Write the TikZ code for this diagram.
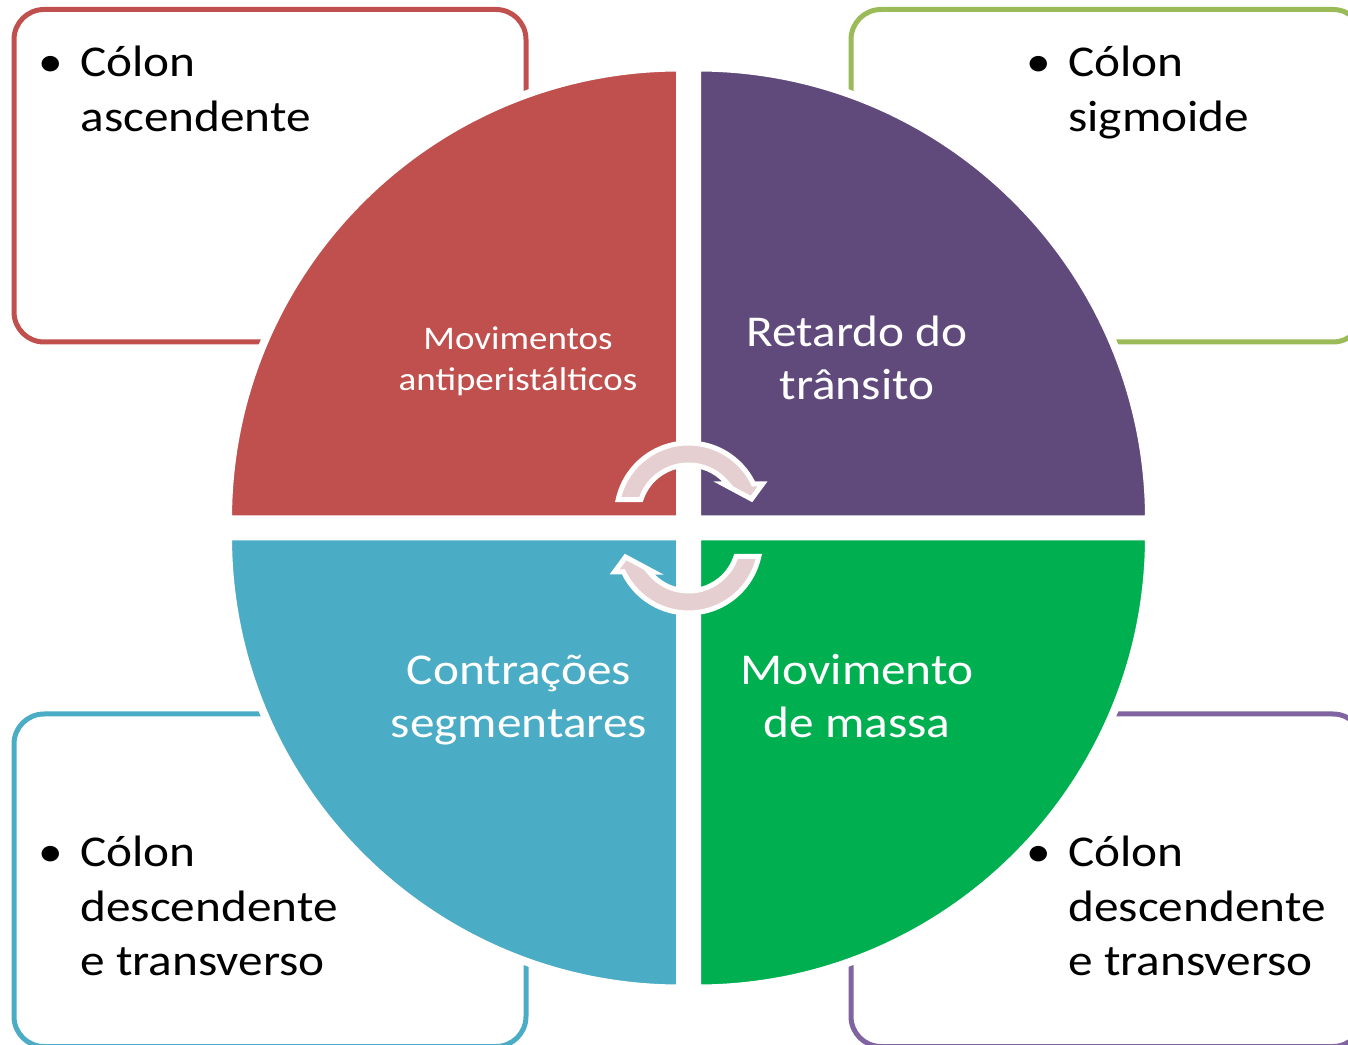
\documentclass[tikz,border=0pt]{standalone}
\usepackage{fontspec}
\setmainfont{Carlito}[FakeStretch=1.12]
\definecolor{quadred}{HTML}{C0504D}
\definecolor{quadpurple}{HTML}{604A7B}
\definecolor{quadblue}{HTML}{4BACC6}
\definecolor{quadgreen}{HTML}{00B050}
\definecolor{boxgreen}{HTML}{9BBB59}
\definecolor{boxpurple}{HTML}{8064A2}
\definecolor{arrowpink}{HTML}{E6CFD0}

\newcommand{\colonlist}[1]{\begin{tabular}[t]{@{}l@{}}\llap{\textbullet\hskip 8.5pt}#1\end{tabular}}
\newcommand{\quadlabel}[1]{\begin{tabular}[t]{@{}c@{}}#1\end{tabular}}

\tikzset{
    colonbox/.style={line width=2.5pt, rounded corners=15pt},
    quadrant/.style={draw=white, line width=4pt},
    cyclearrow/.style={fill=arrowpink, draw=white, line width=2.5pt, line join=miter},
    boxtext/.style={anchor=base west, inner sep=0pt, font=\fontsize{22}{27.25}\selectfont},
    quadtext/.style={anchor=base, inner sep=0pt, text=white, font=\fontsize{22}{26.3}\selectfont}
}

\begin{document}
\begin{tikzpicture}[x=0.5pt, y=0.5pt]
    \useasboundingbox (0, 0) rectangle (1348, 1044);

    \draw[colonbox, quadred] (14, 702) rectangle (526, 1034.5);
    \draw[colonbox, boxgreen] (851, 702) rectangle (1363, 1034.5);
    \draw[colonbox, quadblue] (14, -2.5) rectangle (526, 330);
    \draw[colonbox, boxpurple] (851, -2.5) rectangle (1363, 330);

    \begin{scope}[shift={(688.5, 516)}]
        \foreach \ang/\col in {0/quadpurple, 90/quadred, 180/quadblue, 270/quadgreen}
            \filldraw[quadrant, fill=\col, rotate=\ang] (8.5, 8.5) -- ++(452, 0) arc[start angle=0, end angle=90, radius=452] -- cycle;
    \end{scope}

    % cycle arrows in the middle
    \foreach \yc/\rot in {529/0, 503/180}
        \filldraw[cyclearrow, shift={(688.5, \yc)}, rotate=\rot]
            (162:50) -- (167.6:72) arc[start angle=167.6, end angle=25.5, radius=72]
            -- (74, 31) -- (63, 16) -- (35, 31) -- (38.3:50)
            arc[start angle=38.3, end angle=162, radius=50] -- cycle;

    \node[quadtext, font=\fontsize{16.5}{20.5}\selectfont] (antiperist) at (518, 694) {\quadlabel{Movimentos\\antiperistálticos}};
    \node[quadtext] (retardo) at (857, 697.3) {\quadlabel{Retardo do\\trânsito}};
    \node[quadtext] (contracoes) at (519, 359) {\quadlabel{Contrações\\segmentares}};
    \node[quadtext] (massa) at (857, 359) {\quadlabel{Movimento\\de massa}};

    \node[boxtext] (ascendente) at (80, 967.3) {\colonlist{Cólon\\ascendente}};
    \node[boxtext] (sigmoide) at (1068, 967.3) {\colonlist{Cólon\\sigmoide}};
    \node[boxtext] (descleft) at (80, 177.3) {\colonlist{Cólon\\descendente\\e transverso}};
    \node[boxtext] (descright) at (1068, 177.3) {\colonlist{Cólon\\descendente\\e transverso}};
\end{tikzpicture}
\end{document}
